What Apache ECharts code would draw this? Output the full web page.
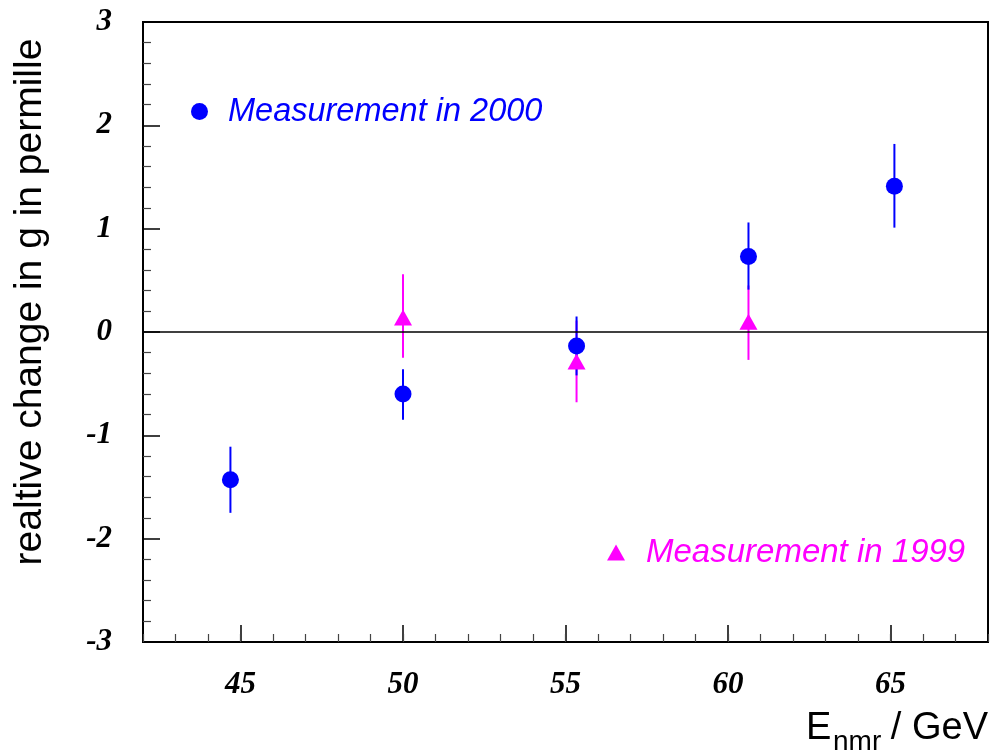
<!DOCTYPE html>
<html><head><meta charset="utf-8">
<script src="https://cdn.jsdelivr.net/npm/echarts@6/dist/echarts.min.js"></script>
<style>html,body{margin:0;padding:0;background:#fff}#c{width:990px;height:755px}</style>
</head><body><div id="c"></div>
<script>
// Data
const energy2000 = [44.69, 50.0, 55.34, 60.63, 65.12];
const value2000  = [-1.43, -0.60, -0.135, 0.73, 1.41];
const low2000    = [-1.75, -0.85, -0.42, 0.41, 1.01];
const high2000   = [-1.11, -0.36, 0.15, 1.06, 1.82];

const energy1999 = [50.0, 55.34, 60.63];
const value1999  = [0.14, -0.285, 0.10];
const low1999    = [-0.25, -0.68, -0.27];
const high1999   = [0.56, 0.11, 0.45];

const xTicks = [45, 50, 55, 60, 65];
const yRange = [-3, 3];
const xRange = [42, 68];

const BLUE = '#0000ff', MAG = '#ff00ff';
const tickFont = {fontFamily:'Liberation Serif', fontWeight:'bold', fontStyle:'italic', fontSize:31, color:'#000'};

function errSeries(name, xs, lo, hi, color){
  return {
    type:'custom', name:name, xAxisIndex:0, yAxisIndex:0, silent:true, z:2,
    data: xs.map((x,i)=>[x, lo[i], hi[i]]),
    renderItem: function(params, api){
      const a = api.coord([api.value(0), api.value(1)]);
      const b = api.coord([api.value(0), api.value(2)]);
      return {type:'line', shape:{x1:a[0],y1:a[1],x2:b[0],y2:b[1]}, style:{stroke:color, lineWidth:2}};
    }
  };
}

const chart = echarts.init(document.getElementById('c'), null, {renderer:'canvas'});
chart.setOption({
  animation:false,
  backgroundColor:'#fff',
  grid:{left:143, right:2, top:22, bottom:113, show:true, borderColor:'#000', borderWidth:2, backgroundColor:'transparent'},
  legend:[
    {data:['Measurement in 2000'], left:186, top:90, itemWidth:17, itemHeight:17, selectedMode:false,
     textStyle:{fontFamily:'Liberation Sans', fontStyle:'italic', fontSize:32.5, color:BLUE, padding:[0,0,0,15]}},
    {data:['Measurement in 1999'], left:602, top:531, itemWidth:18, itemHeight:16, selectedMode:false,
     textStyle:{fontFamily:'Liberation Sans', fontStyle:'italic', fontSize:33, color:MAG, padding:[0,0,0,16]}}
  ],
  xAxis:[
    {type:'value', min:xRange[0], max:xRange[1], position:'bottom',
     axisLine:{show:true, onZero:false, lineStyle:{color:'#000', width:2}},
     axisTick:{show:true, inside:true, length:17, customValues:xTicks, lineStyle:{color:'#000', width:1.5}},
     axisLabel:{show:true, customValues:xTicks, margin:27, ...tickFont},
     splitLine:{show:false}},
    {type:'value', min:xRange[0], max:xRange[1], interval:1, position:'bottom',
     axisLine:{show:false, onZero:false}, axisLabel:{show:false}, splitLine:{show:false},
     axisTick:{show:true, inside:true, length:8, lineStyle:{color:'#444', width:1.2}}}
  ],
  yAxis:{type:'value', min:yRange[0], max:yRange[1], interval:1,
    axisLine:{show:true, onZero:false, lineStyle:{color:'#000', width:2}},
    axisTick:{show:true, inside:true, length:17, lineStyle:{color:'#000', width:1.5}},
    minorTick:{show:true, splitNumber:5, length:8, lineStyle:{color:'#444', width:1.2}},
    axisLabel:{margin:31, ...tickFont},
    splitLine:{show:false}, minorSplitLine:{show:false}},
  graphic:[
    {type:'text', x:30, y:302, rotation:Math.PI/2,
     style:{text:'realtive change in g in permille', fontFamily:'Liberation Sans', fontSize:39, fill:'#000', align:'center', verticalAlign:'middle'}},
    {type:'text', x:806, y:729, style:{text:'E', fontFamily:'Liberation Sans', fontSize:38, fill:'#000', align:'left', verticalAlign:'middle'}},
    {type:'text', x:833, y:742, style:{text:'nmr', fontFamily:'Liberation Sans', fontSize:28, fill:'#000', align:'left', verticalAlign:'middle'}},
    {type:'text', x:988, y:729, style:{text:'/ GeV', fontFamily:'Liberation Sans', fontSize:38, fill:'#000', align:'right', verticalAlign:'middle'}}
  ],
  series:[
    errSeries('err1999', energy1999, low1999, high1999, MAG),
    {type:'scatter', name:'Measurement in 1999', symbol:'triangle', symbolSize:[18,16], z:3,
     itemStyle:{color:MAG, opacity:1}, data: energy1999.map((x,i)=>[x, value1999[i]]),
     markLine:{silent:true, symbol:'none', label:{show:false}, lineStyle:{color:'#000', width:1.5, type:'solid'}, data:[{yAxis:0}]}},
    errSeries('err2000', energy2000, low2000, high2000, BLUE),
    {type:'scatter', name:'Measurement in 2000', symbol:'circle', symbolSize:17, z:5,
     itemStyle:{color:BLUE, opacity:1}, data: energy2000.map((x,i)=>[x, value2000[i]])}
  ]
});
</script></body></html>
